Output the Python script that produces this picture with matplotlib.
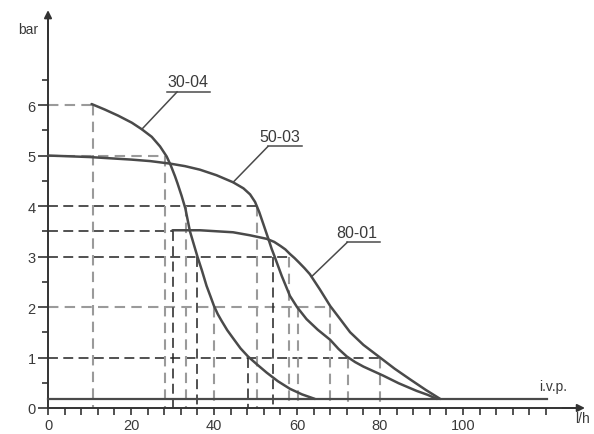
import matplotlib
matplotlib.use("Agg")
import matplotlib.pyplot as plt
from matplotlib.ticker import FixedLocator, NullFormatter

plt.rcParams['font.family'] = ['Liberation Sans', 'DejaVu Sans']

# ---- data ----
c3004_x = [10.5, 13.7, 16.9, 20.2, 22.6, 25, 27, 28.6, 29.6, 30.6, 31.2, 32.2, 33.1, 34.2, 35.1, 36, 37.1, 38.2,
           39.2, 40, 40.9, 41.8, 43.2, 44.7, 46.4, 48.2, 50.4, 52.7, 55.4, 58.3, 61.2, 64.3]
c3004_y = [6.02, 5.91, 5.79, 5.65, 5.52, 5.37, 5.18, 4.98, 4.8, 4.59, 4.45, 4.2, 3.95, 3.5, 3.25, 3.0, 2.72, 2.42,
           2.2, 2.02, 1.86, 1.73, 1.54, 1.37, 1.18, 1.02, 0.86, 0.70, 0.53, 0.38, 0.27, 0.18]

c5003_x = [0, 10, 20, 24.6, 29.4, 33, 36.6, 40.6, 44.6, 47.1, 48.7, 49.9, 50.9, 51.9, 53.1, 53.9, 54.6, 56.3, 58.3,
           60, 62.3, 65, 68, 70, 72, 74, 76, 78.4, 80.8, 84.5, 88.8, 91.5, 93.7]
c5003_y = [5.0, 4.97, 4.92, 4.89, 4.84, 4.79, 4.72, 4.61, 4.47, 4.35, 4.23, 4.08, 3.88, 3.64, 3.35, 3.15, 3.0, 2.62,
           2.22, 2.0, 1.76, 1.55, 1.35, 1.17, 1.02, 0.91, 0.82, 0.73, 0.64, 0.49, 0.34, 0.26, 0.18]

c8001_x = [30, 36.6, 40.6, 44.6, 48.7, 51, 52.7, 54.5, 56, 57.2, 58.3, 59.4, 60.5, 61.8, 63.1, 65.5, 68, 70.5,
           72.8, 76, 80, 83.5, 87.2, 91, 94.5]
c8001_y = [3.52, 3.52, 3.5, 3.48, 3.42, 3.38, 3.35, 3.29, 3.21, 3.14, 3.05, 2.97, 2.88, 2.77, 2.65, 2.35, 2.02, 1.75,
           1.5, 1.25, 1.0, 0.78, 0.57, 0.36, 0.18]

curve_names = ["30-04", "50-03", "80-01"]

# dashed guide lines: horizontal (level, x_end, dark?) and vertical (x, level, dark?)
h_levels = [6, 5, 4, 3.5, 3, 2, 1]
h_ends = [10.9, 28.2, 50.0, 30, 58, 68, 80]
h_dark = [False, False, True, True, True, False, True]

v_xs = [10.9, 28.2, 30, 33.2, 36, 40, 48.2, 50.3, 54.2, 58, 60.2, 68, 72.3, 80]
v_tops = [6, 5, 3.5, 4, 3, 2, 1, 4, 3, 3, 2, 2, 1, 1]
v_dark = [False, False, True, False, True, False, True, False, True, False, False, False, False, False]

ivp_level = 0.18
ivp_end = 120.2

y_major = [0, 1, 2, 3, 4, 5, 6]
y_minor = [0.5, 1.5, 2.5, 3.5, 4.5, 5.5, 6.5]
x_major = [0, 20, 40, 60, 80, 100]
x_minor = list(range(0, 124, 4))

# ---- layout ----
fig = plt.figure(figsize=(5.94, 4.35), dpi=100)
ax = fig.add_axes([0, 0, 1, 1])
ax.set_xlim(-11.57, 131.57)
ax.set_ylim(-0.515, 8.10)
ax.patch.set_alpha(0)

axis_col = "#333333"
curve_col = "#4a4a4a"
dark_dash = "#222222"
gray_dash = "#9a9a9a"
text_col = "#3a3a3a"

for s in ['top', 'right']:
    ax.spines[s].set_visible(False)
ax.spines['left'].set_position(('data', 0))
ax.spines['bottom'].set_position(('data', 0))
ax.spines['left'].set_bounds(0, 7.7)
ax.spines['bottom'].set_bounds(0, 128.5)
for s in ['left', 'bottom']:
    ax.spines[s].set_color(axis_col)
    ax.spines[s].set_linewidth(1.4)

ax.yaxis.set_major_locator(FixedLocator(y_major))
ax.yaxis.set_minor_locator(FixedLocator(y_minor))
ax.xaxis.set_major_locator(FixedLocator(x_major))
ax.xaxis.set_minor_locator(FixedLocator(x_minor))
ax.yaxis.set_minor_formatter(NullFormatter())
ax.xaxis.set_minor_formatter(NullFormatter())
ax.tick_params(axis='y', which='major', direction='out', length=7, width=1.2, color=axis_col,
               labelsize=10.5, labelcolor=text_col, pad=2)
ax.tick_params(axis='y', which='minor', direction='out', length=4, width=1.2, color=axis_col)
ax.tick_params(axis='x', which='both', direction='out', length=5, width=1.2, color=axis_col,
               labelsize=10.5, labelcolor=text_col, pad=2.5)

# arrows on axes
ax.annotate('', xy=(0, 7.88), xytext=(0, 7.3),
            arrowprops=dict(arrowstyle='-|>', color=axis_col, lw=1.4, mutation_scale=11,
                            shrinkA=0, shrinkB=0))
ax.annotate('', xy=(129.4, 0), xytext=(124, 0),
            arrowprops=dict(arrowstyle='-|>', color=axis_col, lw=1.4, mutation_scale=11,
                            shrinkA=0, shrinkB=0))

# dashed guides
for lvl, xe, dk in zip(h_levels, h_ends, h_dark):
    ax.plot([0, xe], [lvl, lvl], color=dark_dash if dk else gray_dash,
            lw=1.1 if dk else 1.5, linestyle=(0, (6.5, 3.5)) if dk else (0, (5, 3)), zorder=2)
for xv, top, dk in zip(v_xs, v_tops, v_dark):
    ax.plot([xv, xv], [top, 0], color=dark_dash if dk else gray_dash,
            lw=1.1 if dk else 1.5, linestyle=(0, (6.5, 3.5)) if dk else (0, (5, 3)), zorder=2)

# i.v.p. line
ax.plot([0, ivp_end], [ivp_level, ivp_level], color=curve_col, lw=1.6, zorder=3)

# curves
for xs, ys in [(c3004_x, c3004_y), (c5003_x, c5003_y), (c8001_x, c8001_y)]:
    ax.plot(xs, ys, color=curve_col, lw=1.8, solid_capstyle='round', solid_joinstyle='round', zorder=4)

# curve labels with leader lines
label_text_xy = [(33.7, 6.27), (55.9, 5.19), (74.4, 3.29)]
label_line = [(28.7, 39.1, 6.26, 31.1), (52.9, 61.1, 5.18, 53.0), (72.0, 80.0, 3.28, 72.1)]
label_target = [(22.6, 5.52), (44.6, 4.47), (63.5, 2.6)]
for name, (tx, ty), (u0, u1, uy, ls), (px, py) in zip(curve_names, label_text_xy, label_line, label_target):
    ax.text(tx, ty + 0.04, name, ha='center', va='bottom', fontsize=11.5, color=text_col)
    ax.plot([u0, u1], [uy, uy], color=curve_col, lw=1.1, zorder=4)
    ax.plot([ls, px], [uy, py], color=curve_col, lw=1.1, zorder=4)

# axis texts
ax.text(-4.8, 7.5, "bar", ha='center', va='center', fontsize=10, color=text_col)
ax.text(128.7, -0.2, "l/h", ha='center', va='center', fontsize=10, color=text_col)
ax.text(121.8, 0.43, "i.v.p.", ha='center', va='center', fontsize=10, color=text_col)

fig.savefig("out.png", dpi=100)
